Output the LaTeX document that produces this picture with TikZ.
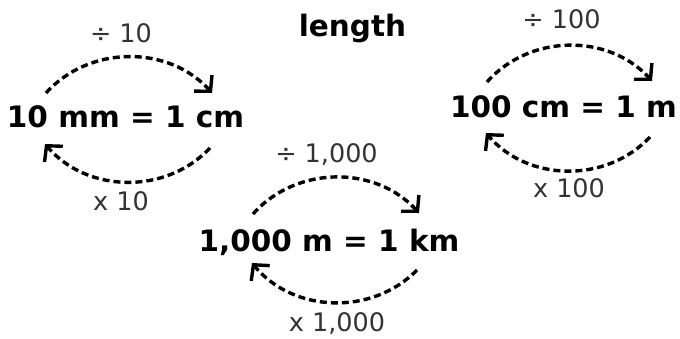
\documentclass[tikz,border=0pt]{standalone}
\usepackage{fontspec}
\setmainfont{DejaVu Sans}
\usetikzlibrary{arrows.meta}

\begin{document}
\begin{tikzpicture}[
  x=1pt, y=1pt,
  unit/.style={font=\fontsize{29.5}{32}\selectfont\bfseries, anchor=base, inner sep=0pt},
  op/.style={font=\fontsize{25.5}{28}\selectfont, text=black!80, anchor=base, inner sep=0pt},
  conv/.style={-{Straight Barb[length=11pt, width=24pt]}, line width=3.4pt, dash pattern=on 7pt off 4pt}
]
\useasboundingbox (0,0) rectangle (680,-338);

% title
\node[unit] (title) at (352.5,-36) {length};

% mm and cm
\node[unit] (mmcm) at (125.5,-127) {10 mm = 1 cm};
\node[op] (divmm) at (121,-42) {÷ 10};
\node[op] (mulmm) at (121,-210) {x 10};
\coordinate (mmA) at (46,-93);
\coordinate (mmB) at (212,-93);
\coordinate (mmC) at (210,-148);
\coordinate (mmD) at (45,-144);

% cm and m
\node[unit] (cmm) at (563.5,-117) {100 cm = 1 m};
\node[op] (divcm) at (561.5,-28) {÷ 100};
\node[op] (mulcm) at (569,-197) {x 100};
\coordinate (cmA) at (487,-82);
\coordinate (cmB) at (652,-81);
\coordinate (cmC) at (650,-137);
\coordinate (cmD) at (486,-133);

% m and km
\node[unit] (mkm) at (329,-251) {1,000 m = 1 km};
\node[op] (divm) at (326.5,-162) {÷ 1,000};
\node[op] (mulm) at (337,-331) {x 1,000};
\coordinate (mA) at (253,-214);
\coordinate (mB) at (419,-213);
\coordinate (mC) at (417,-270);
\coordinate (mD) at (252,-263);

% arrows
\foreach \p in {mm,cm,m} {
  \draw[conv] (\p A) to[bend left=48] (\p B);
  \draw[conv] (\p C) to[bend left=48] (\p D);
}
\end{tikzpicture}
\end{document}
